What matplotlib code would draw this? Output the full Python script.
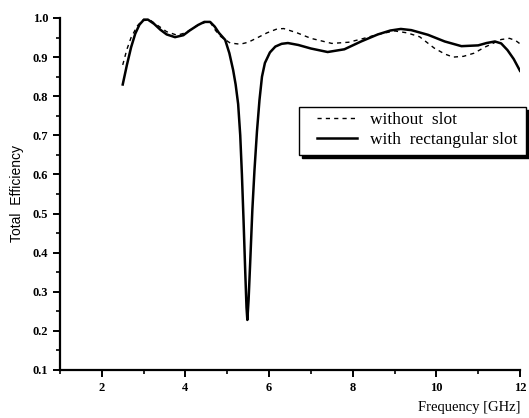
import matplotlib
matplotlib.use("Agg")
import matplotlib.pyplot as plt
from matplotlib.patches import Rectangle
from matplotlib.ticker import MultipleLocator

# values
freq_slot = [2.5, 2.6, 2.7, 2.8, 2.9, 3.0, 3.1, 3.25, 3.4, 3.55, 3.75, 3.95,
             4.1, 4.3, 4.45, 4.59, 4.7, 4.8, 4.95, 5.05, 5.14, 5.2, 5.26,
             5.31, 5.35, 5.39, 5.43, 5.46, 5.48, 5.51, 5.55, 5.6, 5.65,
             5.71, 5.77, 5.83, 5.9, 6.02, 6.15, 6.3, 6.45, 6.7, 7.0, 7.4,
             7.8, 8.2, 8.6, 8.9, 9.15, 9.4, 9.8, 10.2, 10.6, 11.0, 11.2,
             11.4, 11.55, 11.7, 11.85, 12.0]
eff_slot = [0.83, 0.88, 0.925, 0.96, 0.983, 0.995, 0.996, 0.985, 0.97, 0.958,
            0.951, 0.956, 0.968, 0.982, 0.99, 0.99, 0.978, 0.962, 0.944,
            0.91, 0.867, 0.83, 0.78, 0.70, 0.60, 0.48, 0.35, 0.26, 0.228,
            0.28, 0.38, 0.51, 0.61, 0.71, 0.79, 0.85, 0.885, 0.912, 0.927,
            0.934, 0.936, 0.931, 0.922, 0.913, 0.92, 0.94, 0.958, 0.968,
            0.972, 0.969, 0.957, 0.94, 0.928, 0.93, 0.936, 0.94, 0.935,
            0.918, 0.895, 0.865]

freq_noslot = [2.5, 2.6, 2.7, 2.85, 3.0, 3.15, 3.35, 3.55, 3.8, 4.0, 4.3, 4.5,
               4.6, 4.72, 4.85, 5.07, 5.31, 5.5, 5.71, 5.95, 6.19, 6.35, 6.67,
               7.0, 7.5, 7.9, 8.2, 8.6, 9.0, 9.3, 9.6, 9.95, 10.2, 10.4,
               10.65, 10.9, 11.15, 11.35, 11.55, 11.75, 11.9, 12.0]
eff_noslot = [0.88, 0.92, 0.95, 0.98, 0.997, 0.995, 0.98, 0.965, 0.956, 0.962,
              0.982, 0.99, 0.988, 0.968, 0.952, 0.936, 0.933, 0.938, 0.949,
              0.962, 0.972, 0.973, 0.962, 0.948, 0.935, 0.938, 0.946, 0.958,
              0.967, 0.962, 0.952, 0.923, 0.908, 0.90, 0.902, 0.91, 0.925,
              0.935, 0.945, 0.948, 0.942, 0.934]

labels = ["without  slot", "with  rectangular slot"]

serif = "Liberation Serif"

fig = plt.figure(figsize=(5.29, 4.18), dpi=100)
ax = fig.add_axes([60 / 529, 1 - 370 / 418, 460 / 529, 352 / 418])

ax.plot(freq_noslot, eff_noslot, color="black", lw=1.0, ls=(0, (3, 3)), label=labels[0])
ax.plot(freq_slot, eff_slot, color="black", lw=1.8, label=labels[1])

ax.set_xlim(1, 12)
ax.set_ylim(0.1, 1.0)
ax.xaxis.set_major_locator(MultipleLocator(2))
ax.xaxis.set_minor_locator(MultipleLocator(1))
ax.yaxis.set_major_locator(MultipleLocator(0.1))
ax.yaxis.set_minor_locator(MultipleLocator(0.05))
ax.set_yticklabels(["%.1f" % v for v in ax.get_yticks()])

for s in ["top", "right"]:
    ax.spines[s].set_visible(False)
for s in ["left", "bottom"]:
    ax.spines[s].set_linewidth(1.6)

ax.tick_params(which="major", direction="out", length=5, width=1.4)
ax.tick_params(which="minor", direction="out", length=3, width=1.2)
for lab in ax.get_xticklabels() + ax.get_yticklabels():
    lab.set_fontfamily(serif)
    lab.set_fontweight("bold")
    lab.set_fontsize(9)

ax.set_ylabel("Total  Efficiency", fontfamily="Liberation Sans", fontsize=10, labelpad=6)
fig.text(520 / 529, 1 - 407 / 418, "Frequency [GHz]", fontfamily=serif,
         fontsize=10.5, ha="right", va="center")

# legend box drawn by hand (Origin style: wide left margin, shadow below)
bx, by, bw, bh = 0.5196, 0.6108, 0.4935, 0.1364
shadow = Rectangle((bx + 3 / 460, by - 3 / 352), bw, bh, transform=ax.transAxes,
                   facecolor="black", edgecolor="black", clip_on=False, zorder=4)
frame = Rectangle((bx, by), bw, bh, transform=ax.transAxes, facecolor="white",
                  edgecolor="black", lw=1.0, clip_on=False, zorder=5)
ax.add_patch(shadow)
ax.add_patch(frame)

leg = ax.legend(loc="center left", bbox_to_anchor=(0.5587, 0.682), frameon=False,
                prop={"family": serif, "size": 12.5}, handlelength=2.3,
                handletextpad=0.75, borderaxespad=0, borderpad=0,
                labelspacing=0.2)
leg.set_zorder(6)

fig.savefig("out.png", dpi=100)
